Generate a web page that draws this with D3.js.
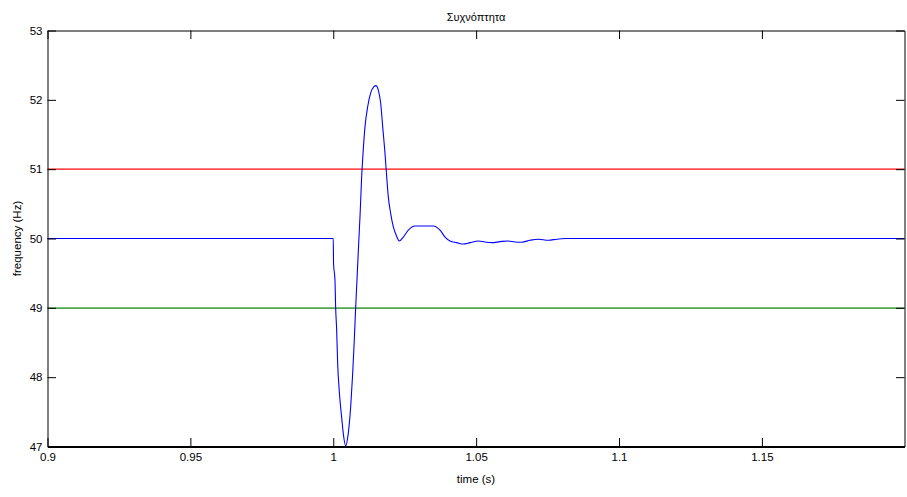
<!DOCTYPE html>
<html><head><meta charset="utf-8">
<script src="https://cdn.jsdelivr.net/npm/d3@7"></script>
<style>body{margin:0;background:#fff;} text{font-family:"Liberation Sans",Arial,sans-serif;}</style>
</head><body><svg id="c" width="907" height="497"></svg>
<script>
const xTicks = [0.9, 0.95, 1, 1.05, 1.1, 1.15];
const yTicks = [47, 48, 49, 50, 51, 52, 53];
const xDomain = [0.9, 1.1999];
const yDomain = [47, 53];
const upperLimit = 51;
const lowerLimit = 49;
const time = [0.9, 1.0, 1.0001, 1.0006, 1.00084, 1.00119, 1.00154, 1.0021, 1.00294, 1.0035, 1.00434,
  1.00525, 1.00609, 1.00679, 1.00735, 1.00784, 1.0084, 1.00875, 1.0091, 1.00935, 1.00994, 1.0105, 1.0111,
  1.01204, 1.0131, 1.01425, 1.01495, 1.01576, 1.0166, 1.0173, 1.0181, 1.0187, 1.01926, 1.0201, 1.021,
  1.0222, 1.02311, 1.02451, 1.02626, 1.0286, 1.03501, 1.03736, 1.03911, 1.04086, 1.04321, 1.04552,
  1.04786, 1.05077, 1.05312, 1.05546, 1.05837, 1.06127, 1.06362, 1.06597, 1.06887, 1.07178, 1.07528,
  1.07822, 1.08113, 1.1999];
const freq = [50, 50, 49.64, 49.4, 49.0, 48.68, 48.2, 47.8, 47.42, 47.19, 47.01,
  47.19, 47.57, 48.05, 48.53, 49.0, 49.49, 49.8, 50.1, 50.31, 50.89, 51.28, 51.61,
  51.90, 52.10, 52.19, 52.205, 52.14, 51.95, 51.61, 51.23, 50.89, 50.6, 50.36, 50.17,
  50.03, 49.965, 50.02, 50.12, 50.18, 50.18, 50.12, 50.02, 49.965, 49.94, 49.92,
  49.94, 49.965, 49.95, 49.94, 49.955, 49.965, 49.95, 49.947, 49.975, 49.99, 49.975,
  49.99, 50.0, 50.0];

const svg = d3.select("#c");
const L = 47.5, R = 904.5, T = 30.5, B = 446.5;
const x = d3.scaleLinear().domain(xDomain).range([L, R]);
const y = d3.scaleLinear().domain(yDomain).range([B, T]);
const tl = 8.5;

const g = svg.append("g");

// limit lines
g.append("rect").attr("x", x(xDomain[0])).attr("width", x(xDomain[1]) - x(xDomain[0]))
  .attr("y", Math.round(y(upperLimit)) - 0.5).attr("height", 1.2).attr("fill", "#ff0000");
g.append("rect").attr("x", x(xDomain[0])).attr("width", x(xDomain[1]) - x(xDomain[0]))
  .attr("y", Math.round(y(lowerLimit)) - 0.5).attr("height", 1.2).attr("fill", "#008000");

const data = time.map((t, i) => [t, freq[i]]);
g.append("path").datum(data)
  .attr("d", d3.line().x(d => x(d[0])).y(d => y(d[1])).curve(d3.curveMonotoneX))
  .attr("fill", "none").attr("stroke", "#0000ff").attr("stroke-width", 1.1);

// axes (inward ticks, box)
const fmt = d => String(d);
const xb = svg.append("g").attr("transform", `translate(0,${B})`)
  .call(d3.axisBottom(x).tickValues(xTicks).tickFormat(fmt).tickSizeInner(-tl).tickSizeOuter(0).tickPadding(6));
const xt = svg.append("g").attr("transform", `translate(0,${T})`)
  .call(d3.axisTop(x).tickValues(xTicks).tickFormat("").tickSizeInner(-tl).tickSizeOuter(0));
const yl = svg.append("g").attr("transform", `translate(${L},0)`)
  .call(d3.axisLeft(y).tickValues(yTicks).tickFormat(fmt).tickSizeInner(-tl).tickSizeOuter(0).tickPadding(5));
const yr = svg.append("g").attr("transform", `translate(${R},0)`)
  .call(d3.axisRight(y).tickValues(yTicks).tickFormat("").tickSizeInner(-tl).tickSizeOuter(0));
[xb, xt, yl, yr].forEach(a => {
  a.selectAll("path.domain").attr("stroke", "#000").attr("stroke-width", 1);
  a.selectAll(".tick line").attr("stroke", "#000").attr("stroke-width", 1);
  a.selectAll("text").attr("fill", "#000").style("font-size", "11.5px").style("font-family", "'Liberation Sans',Arial,sans-serif");
});
xb.select("path.domain").attr("stroke-width", 2);

svg.append("text").attr("x", (L + R) / 2).attr("y", 21).attr("text-anchor", "middle")
  .style("font-size", "11px").text("Συχνόπτητα");
svg.append("text").attr("x", (L + R) / 2).attr("y", 483).attr("text-anchor", "middle")
  .style("font-size", "11.5px").text("time (s)");
svg.append("text").attr("transform", `translate(21,${(T + B) / 2}) rotate(-90)`).attr("text-anchor", "middle")
  .style("font-size", "11.5px").text("frequency (Hz)");
</script></body></html>
